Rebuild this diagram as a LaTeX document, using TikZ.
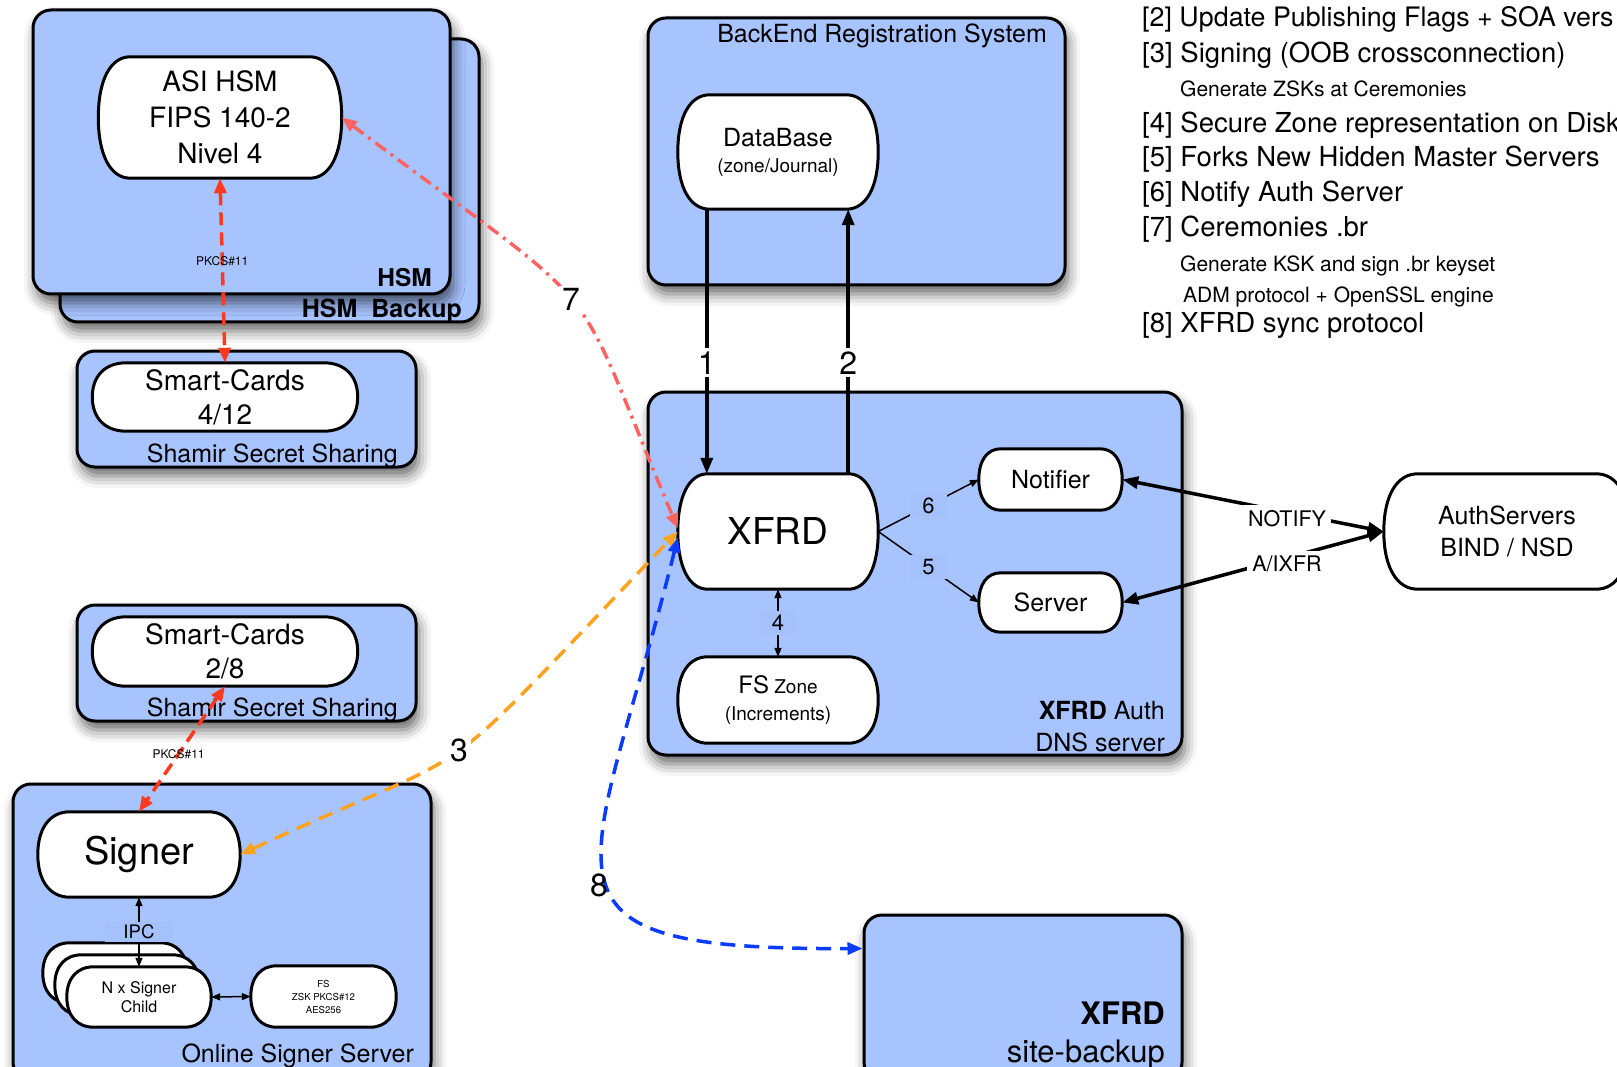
\documentclass[tikz,border=0pt]{standalone}
\usepackage{fontspec}
\setmainfont{TeX Gyre Heros}
\usetikzlibrary{arrows.meta,calc,shadows.blur}
\pgfdeclarelayer{boxes}
\pgfdeclarelayer{caps}
\pgfsetlayers{boxes,caps,main}
\definecolor{boxblue}{HTML}{A8C4FF}
\definecolor{lblbg}{HTML}{A4C1FB}
\definecolor{pkred}{HTML}{FF3A1C}
\definecolor{sevenred}{HTML}{FF6262}
\definecolor{orange3}{HTML}{FFA21F}
\definecolor{blue8}{HTML}{0B3BFF}
\newcommand\myfs[2]{\fontsize{#1}{#2}\selectfont}
\newcommand\capsule[2]{%
  \begin{pgfonlayer}{caps}
  \path[capline] let \p1=(#2.north west), \p2=(#2.south east),
      \n1={#1}, \n2={0.5*(\y1-\y2)}, \n3={0.5*(\y1+\y2)},
      \n4={0.62*#1}, \n5={0.62*0.5*(\y1-\y2)} in
    (\x1+\n1,\y1) -- (\x2-\n1,\y1)
    .. controls (\x2-\n1+\n4,\y1) and (\x2,\n3+\n5) .. (\x2,\n3)
    .. controls (\x2,\n3-\n5) and (\x2-\n1+\n4,\y2) .. (\x2-\n1,\y2)
    -- (\x1+\n1,\y2)
    .. controls (\x1+\n1-\n4,\y2) and (\x1,\n3-\n5) .. (\x1,\n3)
    .. controls (\x1,\n3+\n5) and (\x1+\n1-\n4,\y1) .. cycle;
  \end{pgfonlayer}}
\tikzset{
  bluebox/.style={draw=black, line width=3pt, fill=boxblue, rounded corners=18pt, inner sep=0pt,
    blur shadow={shadow xshift=3pt, shadow yshift=-9pt, shadow blur radius=12pt, shadow opacity=60}},
  capline/.style={draw=black, line width=3pt, fill=white},
  captext/.style={inner sep=0pt, align=center},
  boxlbl/.style={font=\myfs{25}{28}, inner sep=0pt, anchor=base east},
  leg/.style={font=\myfs{27.5}{30}, inner sep=0pt, anchor=base west},
  legs/.style={font=\myfs{21}{24}, inner sep=0pt, anchor=base west},
  bigline/.style={line width=3.5pt, >={Triangle[length=16pt,width=12pt]}},
  smallline/.style={line width=1.5pt, >={Triangle[length=9pt,width=7pt]}},
  numlbl/.style={font=\myfs{32}{34}, inner sep=3pt},
  smlbl/.style={font=\myfs{22}{24}, fill=lblbg, inner xsep=12pt, inner ysep=4pt},
  pk/.style={font=\myfs{12}{14}, inner sep=0pt},
  nlbl/.style={font=\myfs{21.5}{24}, fill=white, inner sep=5pt},
  redline/.style={draw=pkred, line width=3.5pt, dash pattern=on 13pt off 7pt,
    >={Triangle[length=15pt,width=12pt]}, <->},
  sevenline/.style={draw=sevenred, line width=3.5pt, dash pattern=on 13pt off 6pt on 3pt off 6pt,
    >={Triangle[length=15pt,width=12pt]}, <->},
  orangeline/.style={draw=orange3, line width=3.5pt, dash pattern=on 15pt off 9pt,
    >={Triangle[length=15pt,width=12pt]}, <->},
  blueline/.style={draw=blue8, line width=3.5pt, dash pattern=on 15pt off 9pt,
    >={Triangle[length=15pt,width=12pt]}, <->},
}
\begin{document}
\begin{tikzpicture}[x=1pt,y=1pt]
\useasboundingbox (0,0) rectangle (1617,-1067);

% ---------- blue boxes ----------
\begin{pgfonlayer}{boxes}
\node[bluebox, minimum width=419pt, minimum height=283pt] (hsmb) at (269.5,-180.5) {};
\node[bluebox, minimum width=417pt, minimum height=284pt] (hsm) at (241.5,-152) {};
\node[bluebox, minimum width=339pt, minimum height=116pt] (sb1) at (246.5,-409) {};
\node[bluebox, minimum width=339pt, minimum height=116pt] (sb2) at (246.5,-663) {};
\node[bluebox, minimum width=418pt, minimum height=296pt] (oss) at (222,-932) {};
\node[bluebox, minimum width=417pt, minimum height=267pt] (be) at (856.5,-151.5) {};
\node[bluebox, minimum width=534pt, minimum height=363pt] (xb) at (915,-573.5) {};
\node[bluebox, minimum width=318pt, minimum height=165pt] (bk) at (1023,-997.5) {};
\end{pgfonlayer}

% ---------- box labels ----------
\node[boxlbl, font=\myfs{24.5}{28}] (hsmt) at (432,-287) {\bfseries HSM};
\node[boxlbl] (hsmbt) at (462,-317) {\bfseries HSM\ \ Backup};
\node[boxlbl] (sh1) at (398,-462) {Shamir Secret Sharing};
\node[boxlbl] (sh2) at (398,-716) {Shamir Secret Sharing};
\node[boxlbl] (osst) at (414,-1062) {Online Signer Server};
\node[boxlbl] (bet) at (1047,-43) {BackEnd Registration System};
\node[boxlbl] (xbt1) at (1165,-719) {{\bfseries XFRD} Auth};
\node[boxlbl] (xbt2) at (1165,-751) {DNS server};
\node[boxlbl, font=\myfs{31}{34}] (bkt1) at (1165,-1024) {\bfseries XFRD};
\node[boxlbl, font=\myfs{31}{34}] (bkt2) at (1165,-1062) {site-backup};
\coordinate (bk8) at ([yshift=-35pt]bk.north west);

% ---------- capsule nodes ----------
\node[captext, minimum width=243pt, minimum height=121pt, font=\myfs{28}{36}] (asi) at (220,-117.5) {ASI HSM\\FIPS 140-2\\Nivel 4};
\node[captext, minimum width=265pt, minimum height=68pt, font=\myfs{28}{34}] (sc1) at (225,-397) {Smart-Cards\\4/12};
\node[captext, minimum width=265pt, minimum height=69pt, font=\myfs{28}{34}] (sc2) at (225,-651.5) {Smart-Cards\\2/8};
\node[captext, minimum width=202pt, minimum height=85pt, font=\myfs{38}{40}] (signer) at (139,-854.5) {Signer};
\node[captext, minimum width=144pt, minimum height=60pt] (childc) at (115,-973) {};
\node[captext, minimum width=144pt, minimum height=60pt] (childb) at (127,-985) {};
\node[captext, minimum width=144pt, minimum height=60pt, font=\myfs{16}{19}] (child) at (139,-997) {N x Signer\\Child};
\node[captext, minimum width=145pt, minimum height=61pt, font=\myfs{9.6}{13}] (fsk) at (323.5,-996.5) {FS\\ZSK PKCS\#12\\AES256};
\node[captext, minimum width=200pt, minimum height=114pt, font=\myfs{19}{26}] (db) at (778,-152) {{\myfs{25}{26}DataBase}\\(zone/Journal)};
\node[captext, minimum width=200pt, minimum height=115pt, font=\myfs{37}{40}] (xfrd) at (778,-531.5) {XFRD};
\node[captext, minimum width=200pt, minimum height=86pt, font=\myfs{19}{27}] (fsz) at (778,-700) {{\myfs{24}{27}FS} Zone\\(Increments)};
\node[captext, minimum width=143pt, minimum height=61pt, font=\myfs{25}{28}] (notifier) at (1050.5,-479.5) {Notifier};
\node[captext, minimum width=143pt, minimum height=59pt, font=\myfs{25}{28}] (server) at (1050.5,-602.5) {Server};
\node[captext, minimum width=246pt, minimum height=115pt, font=\myfs{25}{32}] (auth) at (1507,-531.5) {AuthServers\\BIND / NSD};

\capsule{32}{asi}
\capsule{34}{sc1}
\capsule{34}{sc2}
\capsule{32}{signer}
\capsule{27}{childc}
\capsule{27}{childb}
\capsule{27}{child}
\capsule{26}{fsk}
\capsule{32}{db}
\capsule{30}{xfrd}
\capsule{30}{fsz}
\capsule{22}{notifier}
\capsule{22}{server}
\capsule{34}{auth}

% ---------- legend ----------
\node[leg, font=\myfs{26.8}{30}] (l2) at (1142,-27) {[2] Update Publishing Flags + SOA vers};
\node[leg] (l3) at (1142,-63) {[3] Signing (OOB crossconnection)};
\node[legs] (l3a) at (1180,-97) {Generate ZSKs at Ceremonies};
\node[leg] (l4) at (1142,-133) {[4] Secure Zone representation on Disk};
\node[leg] (l5) at (1142,-167) {[5] Forks New Hidden Master Servers};
\node[leg] (l6) at (1142,-202) {[6] Notify Auth Server};
\node[leg] (l7) at (1142,-237) {[7] Ceremonies .br};
\node[legs] (l7a) at (1180,-272) {Generate KSK and sign .br keyset};
\node[legs] (l7b) at (1183,-302) {ADM protocol + OpenSSL engine};
\node[leg] (l8) at (1142,-332) {[8] XFRD sync protocol};

% ---------- black connectors ----------
\draw[bigline, ->] ([xshift=29pt]db.south west) -- node[pos=0.58, numlbl, fill=white] {1} ([xshift=29pt]xfrd.north west);
\draw[bigline, ->] ([xshift=-30pt]xfrd.north east) -- node[pos=0.42, numlbl, fill=white] {2} ([xshift=-30pt]db.south east);
\draw[smallline, <->] (xfrd.south) -- node[smlbl] {4} (fsz.north);
\draw[smallline, ->] (xfrd.east) -- node[smlbl] {6} (notifier.west);
\draw[smallline, ->] (xfrd.east) -- node[smlbl] {5} (server.west);
\draw[bigline, <->] (notifier.east) -- node[pos=0.63, nlbl, yshift=-6pt] {NOTIFY} (auth.west);
\draw[bigline, <->] (server.east) -- node[pos=0.63, nlbl, yshift=-6pt] {A/IXFR} (auth.west);
\draw[smallline, <->] (signer.south) -- node[smlbl, font=\myfs{18.6}{20}, inner xsep=18pt, inner ysep=3pt] {IPC} (child.north);
\draw[smallline, <->] (child.east) -- (fsk.west);

% ---------- coloured connectors ----------
\draw[redline] (asi.south) -- node[pos=0.45, pk] {PKCS\#11} (sc1.north);
\draw[redline] (sc2.south) -- node[pos=0.54, pk] {PKCS\#11} (signer.north);
\draw[sevenline] (asi.east) .. controls (619,-326) and (564,-258) .. node[pos=0.5, numlbl, fill=white] {7} ([yshift=3pt]xfrd.west);
\draw[orangeline] (signer.east) .. controls (502,-734) and (416,-804) .. node[pos=0.5, numlbl, fill=white] {3} (xfrd.west);
\draw[blueline] ([yshift=-6pt]xfrd.west) .. controls (592,-883) and (508,-950) .. node[pos=0.5, numlbl, xshift=-6pt, yshift=-12pt] {8} (bk8);
\end{tikzpicture}
\end{document}
